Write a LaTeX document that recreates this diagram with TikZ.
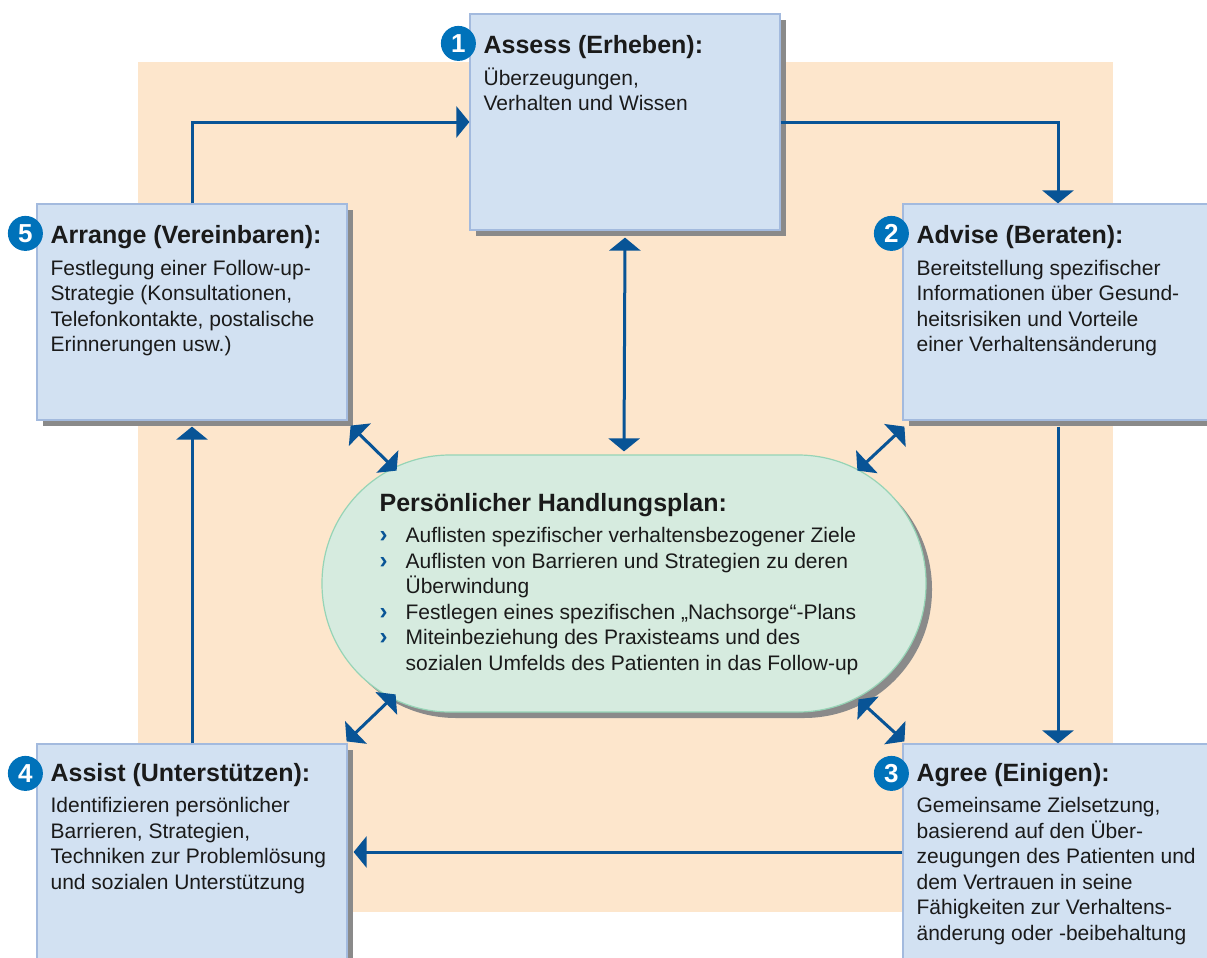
\documentclass[tikz,border=0pt]{standalone}
\usepackage{fontspec}
\setmainfont{Liberation Sans}
\usetikzlibrary{arrows.meta,shadows}

\definecolor{peach}{RGB}{253,230,204}
\definecolor{boxblue}{RGB}{210,225,242}
\definecolor{boxline}{RGB}{163,186,222}
\definecolor{planfill}{RGB}{214,235,223}
\definecolor{planline}{RGB}{150,212,182}
\definecolor{arrowblue}{RGB}{8,84,150}
\definecolor{numblue}{RGB}{0,114,186}
\definecolor{shade}{RGB}{138,138,138}
\definecolor{ink}{RGB}{26,26,26}

\newcommand{\stagehead}[1]{{\fontsize{25}{25.5}\selectfont\bfseries #1}}
\newcommand{\pbullet}{\makebox[26pt][l]{\textcolor{arrowblue}{\fontsize{24}{25.5}\selectfont\bfseries ›}}}
\newcommand{\pgap}{\hspace*{26pt}}

\tikzset{
  stage/.style={draw=boxline, fill=boxblue, line width=1.2pt,
    minimum width=310, minimum height=216, inner sep=0pt,
    drop shadow={shadow xshift=6pt, shadow yshift=-6pt, fill=shade, opacity=1}},
  stagetext/.style={anchor=north west, inner sep=0pt, align=left, text=ink,
    font=\fontsize{21}{25.5}\selectfont},
  num/.style={circle, fill=numblue, text=white, minimum size=35, inner sep=0pt,
    font=\fontsize{26}{26}\selectfont\bfseries},
  flow/.style={draw=arrowblue, line width=3pt, -{Triangle[length=13pt,width=31pt]}},
  twoway/.style={draw=arrowblue, line width=3pt,
    {Triangle[length=13pt,width=31pt]}-{Triangle[length=13pt,width=31pt]}},
}

\begin{document}
\begin{tikzpicture}[x=1pt, y=-1pt]

  \path[use as bounding box, clip] (0,0) rectangle (1207,958);

  \fill[peach] (138,62) rectangle (1113,912);

  \node[stage] (assess)  at (625,122)  {};
  \node[stage] (advise)  at (1058,312) {};
  \node[stage] (agree)   at (1058,852) {};
  \node[stage] (assist)  at (192,852)  {};
  \node[stage] (arrange) at (192,312)  {};

  \node[draw=planline, fill=planfill, line width=1.2pt, rounded corners=128,
        minimum width=604, minimum height=257,
        drop shadow={shadow xshift=6pt, shadow yshift=-6pt, fill=shade, opacity=1}]
        (plan) at (624,583.5) {};

  \node[stagetext] (assess-text) at ([shift={(14,22)}]assess.north west)
    {\stagehead{Assess (Erheben):}\\[6pt]
     Überzeugungen,\\
     Verhalten und Wissen};
  \node[stagetext] (advise-text) at ([shift={(14,22)}]advise.north west)
    {\stagehead{Advise (Beraten):}\\[6pt]
     Bereitstellung spezifischer\\
     Informationen über Gesund-\\
     heitsrisiken und Vorteile\\
     einer Verhaltensänderung};
  \node[stagetext] (agree-text) at ([shift={(14,20)}]agree.north west)
    {\stagehead{Agree (Einigen):}\\[5.5pt]
     Gemeinsame Zielsetzung,\\
     basierend auf den Über-\\
     zeugungen des Patienten und\\
     dem Vertrauen in seine\\
     Fähigkeiten zur Verhaltens-\\
     änderung oder -beibehaltung};
  \node[stagetext] (assist-text) at ([shift={(14,20)}]assist.north west)
    {\stagehead{Assist (Unterstützen):}\\[5.5pt]
     Identifizieren persönlicher\\
     Barrieren, Strategien,\\
     Techniken zur Problemlösung\\
     und sozialen Unterstützung};
  \node[stagetext] (arrange-text) at ([shift={(14,22)}]arrange.north west)
    {\stagehead{Arrange (Vereinbaren):}\\[6pt]
     Festlegung einer Follow-up-\\
     Strategie (Konsultationen,\\
     Telefonkontakte, postalische\\
     Erinnerungen usw.)};

  \node[stagetext] (plan-text) at ([shift={(58,38.5)}]plan.north west)
    {\stagehead{Persönlicher Handlungsplan:}\\[6pt]
     \pbullet Auflisten spezifischer verhaltensbezogener Ziele\\
     \pbullet Auflisten von Barrieren und Strategien zu deren\\
     \pgap Überwindung\\
     \pbullet Festlegen eines spezifischen „Nachsorge“-Plans\\
     \pbullet Miteinbeziehung des Praxisteams und des\\
     \pgap sozialen Umfelds des Patienten in das Follow-up};

  \node[num] (num1) at ([shift={(-11,30)}]assess.north west)  {1} ;
  \node[num] (num2) at ([shift={(-11,30)}]advise.north west)  {2} ;
  \node[num] (num3) at ([shift={(-11,30)}]agree.north west)   {3} ;
  \node[num] (num4) at ([shift={(-11,30)}]assist.north west)  {4} ;
  \node[num] (num5) at ([shift={(-11,30)}]arrange.north west) {5} ;

  \draw[flow]                  (arrange.north) |- (assess.west)              ;
  \draw[flow]                  (assess.east)   -| (advise.north)             ;
  \draw[flow, shorten <=6pt]   (advise.south)  -- (agree.north)              ;
  \draw[flow]                  (agree.west)    -- ([xshift=6pt]assist.east)  ;
  \draw[flow]                  (assist.north)  -- ([yshift=-6pt]arrange.south) ;

  \draw[twoway] ([yshift=-7pt]assess.south) -- ([yshift=3pt]plan.north) ;
  \draw[twoway] ([shift={(3,5)}]arrange.south east)
             -- ([shift={(49,50)}]arrange.south east) ;
  \draw[twoway] ([shift={(2,6)}]advise.south west)
             -- ([shift={(-45,50)}]advise.south west) ;
  \draw[twoway] ([shift={(-1,-2)}]assist.north east)
             -- ([shift={(48,-49)}]assist.north east) ;
  \draw[twoway] ([shift={(2,-2)}]agree.north west)
             -- ([shift={(-44,-44)}]agree.north west) ;

\end{tikzpicture}
\end{document}
